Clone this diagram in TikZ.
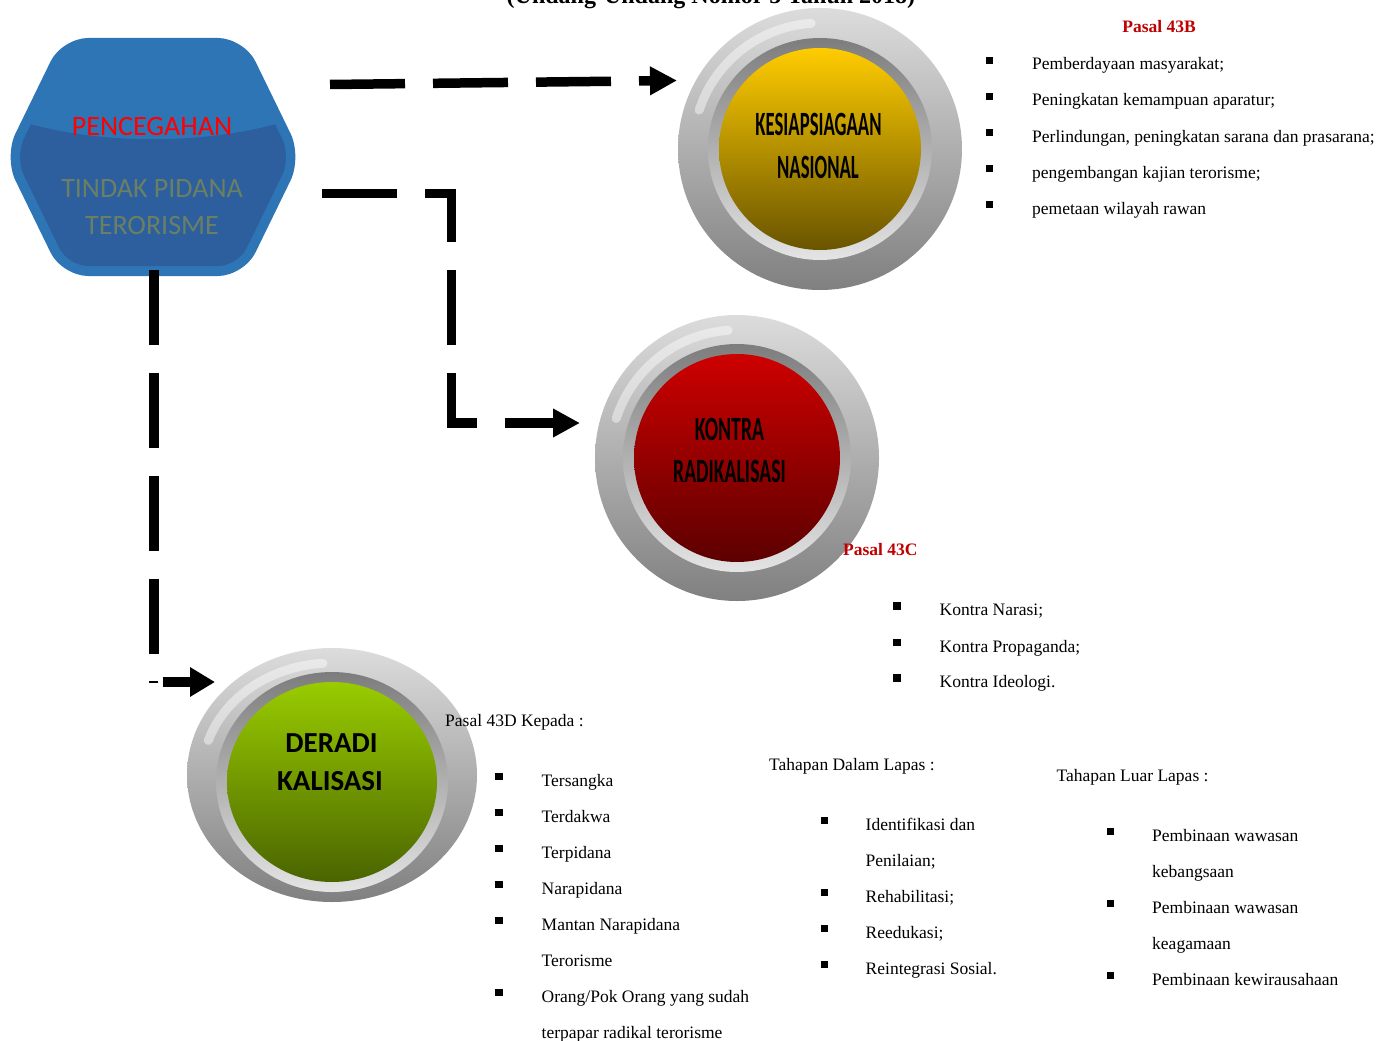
\documentclass[tikz,border=0pt]{standalone}
\usepackage{fontspec}
\setmainfont{Liberation Serif}
\newfontfamily\calfont{Carlito}
\usetikzlibrary{arrows.meta,shapes.geometric}
\definecolor{hexlight}{RGB}{46,117,182}
\definecolor{hexdark}{RGB}{45,94,158}
\definecolor{hexgreen}{RGB}{106,128,100}
\definecolor{pasalred}{RGB}{192,0,0}
\definecolor{btnlight}{RGB}{220,220,220}
\definecolor{btndark}{RGB}{128,128,128}
\definecolor{ringdark}{RGB}{125,125,125}
\definecolor{ringlight}{RGB}{228,228,228}
\definecolor{yelT}{RGB}{255,204,0}
\definecolor{yelB}{RGB}{105,84,0}
\definecolor{redT}{RGB}{206,0,0}
\definecolor{redB}{RGB}{92,0,0}
\definecolor{grnT}{RGB}{153,204,0}
\definecolor{grnB}{RGB}{74,100,0}
% #1 cx, #2 cy, #3 outer rx, #4 outer ry, #5 inner cy, #6 inner rx, #7 inner ry, #8 top, #9 bottom
\newcommand\btnshape[9]{%
  \shade[top color=btnlight, bottom color=btndark] (#1,#2) ellipse [x radius=#3, y radius=#4];
  \draw[white, opacity=0.45, line width=9, line cap=round]
     ([shift={(266:#3-15 and #4-15)}]#1,#2) arc [start angle=266, end angle=198, x radius=#3-15, y radius=#4-15];
  \shade[top color=ringdark, bottom color=ringlight] (#1,#5) ellipse [x radius=#6+11, y radius=#7+10];
  \shade[top color=#8, bottom color=#9] (#1,#5) ellipse [x radius=#6, y radius=#7];
}
\newcommand\itm[5]{%
  \fill (#1-3.75,#3-13.25) rectangle (#1+3.75,#3-5.75);
  \node[txt] (#5) at (#2,#3) {#4};
}
\begin{document}
\begin{tikzpicture}[x=1pt,y=-1pt,
  txt/.style={anchor=base west, inner sep=0pt, font=\fontsize{17.5}{21}\selectfont},
  pasal/.style={anchor=base west, inner sep=0pt, text=pasalred, font=\bfseries\fontsize{17.5}{21}\selectfont},
  hextxt/.style={anchor=base, inner sep=0pt, font=\calfont\fontsize{28}{32}\selectfont},
  btntxt/.style={anchor=base, inner sep=0pt, font=\calfont\bfseries\fontsize{34}{38}\selectfont},
  conn/.style={line width=9.5pt, dash pattern=on 75pt off 28pt, line join=miter, line cap=butt},
  tip/.style={-{Triangle[length=27pt,width=27pt]}}]
\useasboundingbox (0,0) rectangle (1392,1041);

% title (cut at top, as in the reference)
\node[anchor=base, inner sep=0pt, font=\bfseries\fontsize{24}{28}\selectfont] (title) at (711,3.5) {(Undang-Undang Nomor 5 Tahun 2018)};

% hexagon
\fill[hexlight, rounded corners=26] (153,38) -- (244,38) -- (302,157) -- (244,276) -- (62,276) -- (4,157) -- (62,38) -- cycle;
\begin{scope}
  \clip[rounded corners=20] (153,48) -- (238,48) -- (291,157) -- (238,266) -- (68,266) -- (15,157) -- (68,48) -- cycle;
  \fill[hexdark] (4,116) .. controls (90,147) and (216,147) .. (302,116) -- (302,290) -- (4,290) -- cycle;
\end{scope}
\node[inner sep=0pt, minimum width=296pt, minimum height=238pt] (hex) at (153,157) {};
\node[hextxt, text=red] (hx1) at (152,135) {PENCEGAHAN};
\node[hextxt, text=hexgreen] (hx2) at (152,197) {TINDAK PIDANA};
\node[hextxt, text=hexgreen] (hx3) at (152,234) {TERORISME};

% buttons
\btnshape{820}{149}{142}{141}{149}{101}{101}{yelT}{yelB}
\node[circle, inner sep=0pt, minimum size=284pt] (kes) at (820,149) {};
\node[btntxt] (kes1) at (818.5,135) {\scalebox{0.55}[1]{KESIAPSIAGAAN}};
\node[btntxt] (kes2) at (818,178) {\scalebox{0.55}[1]{NASIONAL}};

\btnshape{737}{458}{142}{143}{458}{103}{104}{redT}{redB}
\node[circle, inner sep=0pt, minimum size=284pt] (kon) at (737,458) {};
\node[btntxt] (kon1) at (729.5,440) {\scalebox{0.58}[1]{KONTRA}};
\node[btntxt] (kon2) at (729.5,482) {\scalebox{0.58}[1]{RADIKALISASI}};

\btnshape{332}{775}{145}{127}{782}{105}{100}{grnT}{grnB}
\node[ellipse, inner sep=0pt, minimum width=290pt, minimum height=254pt] (der) at (332,775) {};
\node[anchor=base, inner sep=0pt, font=\calfont\bfseries\fontsize{29}{33}\selectfont] (der1) at (331.5,752) {DERADI};
\node[anchor=base, inner sep=0pt, font=\calfont\bfseries\fontsize{29}{33}\selectfont] (der2) at (330,790) {KALISASI};

% connectors
\coordinate (c1s) at (330,84.5);
\coordinate (c1e) at (677,80.5);
\draw[conn, tip] (c1s) -- (c1e);

\coordinate (c2s) at (322,193.5);
\coordinate (c2k) at (451.5,423);
\coordinate (c2e) at (580,423);
\draw[conn, tip] (c2s) -| (c2k) -- (c2e);

\coordinate (c3s) at (154,270);
\coordinate (c3k) at (154,682);
\draw[conn] (c3s) -- (c3k);
\coordinate (c3t1) at (149,682);
\coordinate (c3t2) at (158,682);
\draw[line width=1.6pt] (c3t1) -- (c3t2);
\coordinate (c3a) at (163,682);
\coordinate (c3e) at (215,682);
\draw[line width=9.5pt, -{Triangle[length=25pt,width=28pt]}] (c3a) -- (c3e);

% Pasal 43B
\node[anchor=base, inner sep=0pt, text=pasalred, font=\bfseries\fontsize{17.5}{21}\selectfont] (p43b) at (1159,33) {Pasal 43B};
\itm{989.5}{1032}{70}{Pemberdayaan masyarakat;}{b1}
\itm{989.5}{1032}{106}{Peningkatan kemampuan aparatur;}{b2}
\itm{989.5}{1032}{142}{Perlindungan, peningkatan sarana dan prasarana;}{b3}
\itm{989.5}{1032}{178}{pengembangan kajian terorisme;}{b4}
\itm{989.5}{1032}{214}{pemetaan wilayah rawan}{b5}

% Pasal 43C
\node[pasal] (p43c) at (843,555) {Pasal 43C};
\itm{897}{939.5}{615.5}{Kontra Narasi;}{c1}
\itm{897}{939.5}{652}{Kontra Propaganda;}{c2}
\itm{897}{939.5}{687.5}{Kontra Ideologi.}{c3}

% Pasal 43D
\node[txt] (p43d) at (445,726.5) {Pasal 43D Kepada :};
\itm{499}{541.5}{786}{Tersangka}{d1}
\itm{499}{541.5}{822}{Terdakwa}{d2}
\itm{499}{541.5}{858}{Terpidana}{d3}
\itm{499}{541.5}{894}{Narapidana}{d4}
\itm{499}{541.5}{930}{Mantan Narapidana}{d5}
\node[txt] (d5b) at (541.5,966) {Terorisme};
\itm{499}{541.5}{1002}{Orang/Pok Orang yang sudah}{d6}
\node[txt] (d6b) at (541.5,1038) {terpapar radikal terorisme};

% Tahapan Dalam Lapas
\node[txt] (tdl) at (769,770) {Tahapan Dalam Lapas :};
\itm{824.5}{865.5}{830}{Identifikasi dan}{e1}
\node[txt] (e1b) at (865.5,866) {Penilaian;};
\itm{824.5}{865.5}{902}{Rehabilitasi;}{e2}
\itm{824.5}{865.5}{938}{Reedukasi;}{e3}
\itm{824.5}{865.5}{974}{Reintegrasi Sosial.}{e4}

% Tahapan Luar Lapas
\node[txt] (tll) at (1056.5,781) {Tahapan Luar Lapas :};
\itm{1110.5}{1152}{841}{Pembinaan wawasan}{f1}
\node[txt] (f1b) at (1152,877) {kebangsaan};
\itm{1110.5}{1152}{913}{Pembinaan wawasan}{f2}
\node[txt] (f2b) at (1152,949) {keagamaan};
\itm{1110.5}{1152}{985}{Pembinaan kewirausahaan}{f3}
\end{tikzpicture}
\end{document}
